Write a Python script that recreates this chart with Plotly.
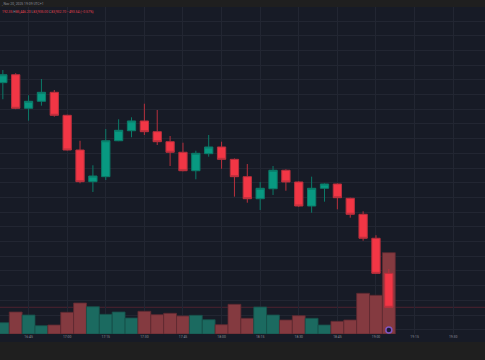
import plotly.graph_objects as go

DATE = "2025-11-20"

times = ["16:35", "16:40", "16:45", "16:50", "16:55", "17:00", "17:05", "17:10",
         "17:15", "17:20", "17:25", "17:30", "17:35", "17:40", "17:45", "17:50",
         "17:55", "18:00", "18:05", "18:10", "18:15", "18:20", "18:25", "18:30",
         "18:35", "18:40", "18:45", "18:50", "18:55", "19:00", "19:05"]

opens = [86961, 87069, 86612, 86708, 86830, 86517, 86045, 85614,
         85682, 86171, 86307, 86440, 86294, 86158, 86014, 85763,
         85995, 86086, 85918, 85682, 85382, 85518, 85769, 85610,
         85283, 85524, 85582, 85388, 85170, 84844, 84367]
highs = [87133, 87090, 86789, 87011, 86861, 86525, 86171, 85837,
         86331, 86463, 86490, 86675, 86589, 86235, 86144, 86035,
         86249, 86158, 85930, 85854, 85610, 85827, 85782, 85620,
         85682, 85590, 85590, 85396, 85211, 84885, 84426]
lows = [86735, 86600, 86444, 86648, 86498, 86038, 85592, 85474,
        85637, 86165, 86218, 86249, 86113, 85827, 85755, 85646,
        85954, 85790, 85410, 85328, 85229, 85433, 85491, 85270,
        85192, 85342, 85238, 85124, 84811, 84360, 83900]
closes = [87069, 86612, 86708, 86830, 86517, 86045, 85614, 85691,
          86171, 86313, 86440, 86294, 86158, 86014, 85763, 86000,
          86086, 85918, 85682, 85382, 85524, 85769, 85610, 85283,
          85524, 85582, 85396, 85170, 84844, 84367, 83905]
volumes = [113, 220, 190, 83, 90, 217, 310, 273,
           197, 220, 160, 227, 193, 207, 180, 187,
           143, 93, 297, 157, 270, 190, 140, 183,
           157, 90, 127, 140, 407, 387, 813]

tick_labels = ["16:45", "17:00", "17:15", "17:30", "17:45", "18:00",
               "18:15", "18:30", "18:45", "19:00", "19:15", "19:30"]

header_time = ", Nov 20, 2025 19:09 UTC+1"
header_ohlc = ("192.35 <span style='color:#8a8e99'>H</span>85,446.20 "
               "<span style='color:#8a8e99'>L</span>83,935.00 "
               "<span style='color:#8a8e99'>C</span>83,932.70 −493.54 (−0.57%)")

x = [f"{DATE} {t}" for t in times]
tickvals = [f"{DATE} {t}" for t in tick_labels]

BG = "#171b26"
BAND = "#1f1f1f"
GRID = "#222632"
UP = "#089981"
DOWN = "#f23645"
UP_LINE = "#0b7a68"
DOWN_LINE = "#b8303d"
VOL_UP = "#1b6a60"
VOL_DOWN = "#843a40"

vol_colors = [VOL_UP if c >= o else VOL_DOWN for o, c in zip(opens, closes)]
vol_lines = ["#164f49" if c >= o else "#5e2a31" for o, c in zip(opens, closes)]

fig = go.Figure()

fig.add_trace(go.Bar(
    x=x, y=volumes, yaxis="y", width=300000,
    marker=dict(color=vol_colors, line=dict(color=vol_lines, width=0.8)),
    hoverinfo="skip",
))

fig.add_trace(go.Candlestick(
    x=x, open=opens, high=highs, low=lows, close=closes, yaxis="y2",
    increasing=dict(fillcolor=UP, line=dict(color=UP_LINE, width=1)),
    decreasing=dict(fillcolor=DOWN, line=dict(color=DOWN_LINE, width=1)),
    whiskerwidth=0, hoverinfo="skip",
))

fig.add_trace(go.Scatter(
    x=[x[-1]], y=[40], yaxis="y", mode="markers",
    marker=dict(size=6, color="#1d1830", line=dict(color="#7e57c2", width=1.5)),
    hoverinfo="skip",
))

fig.update_layout(
    width=485, height=360,
    margin=dict(l=0, r=0, t=7, b=26),
    paper_bgcolor=BG, plot_bgcolor=BG,
    showlegend=False,
    boxgap=0.08,
    xaxis=dict(
        type="date",
        range=[f"{DATE} 16:33:54", f"{DATE} 19:42:22"],
        tickmode="array", tickvals=tickvals, ticktext=tick_labels,
        tickfont=dict(family="Roboto", size=3.4, color="#8a8e99"),
        showgrid=True, gridcolor=GRID, gridwidth=1,
        zeroline=False, showline=False, ticks="",
        rangeslider=dict(visible=False),
        fixedrange=True,
    ),
    yaxis=dict(
        range=[0, 3270], showgrid=False, showticklabels=False,
        zeroline=False, showline=False, fixedrange=True,
    ),
    yaxis2=dict(
        overlaying="y", side="right",
        range=[83541.6, 87990.5], tick0=0, dtick=200,
        showgrid=True, gridcolor=GRID, gridwidth=1,
        showticklabels=False, zeroline=False, showline=False, fixedrange=True,
    ),
    shapes=[
        dict(type="rect", xref="paper", yref="paper", x0=0, x1=1, y0=1, y1=1.05,
             fillcolor=BAND, line=dict(width=0), layer="above"),
        dict(type="rect", xref="paper", yref="paper", x0=0, x1=1, y0=-0.0245, y1=-0.1,
             fillcolor=BAND, line=dict(width=0), layer="above"),
        dict(type="line", xref="paper", yref="y2", x0=0, x1=1,
             y0=closes[-1], y1=closes[-1],
             line=dict(color="#4d2330", width=1), layer="below"),
    ],
    annotations=[
        dict(xref="paper", yref="paper", x=0, y=1.0092, xanchor="left", yanchor="middle",
             text=header_time, showarrow=False,
             font=dict(family="Roboto", size=3.4, color="#8a8e99")),
        dict(xref="paper", yref="paper", x=0, y=0.9847, xanchor="left", yanchor="middle",
             text=header_ohlc, showarrow=False,
             font=dict(family="Roboto", size=3.4, color="#e0424f")),
    ],
)

fig.write_html("out.html", config=dict(displayModeBar=False),
               post_script="document.body.style.margin='0';document.body.style.overflow='hidden';")
